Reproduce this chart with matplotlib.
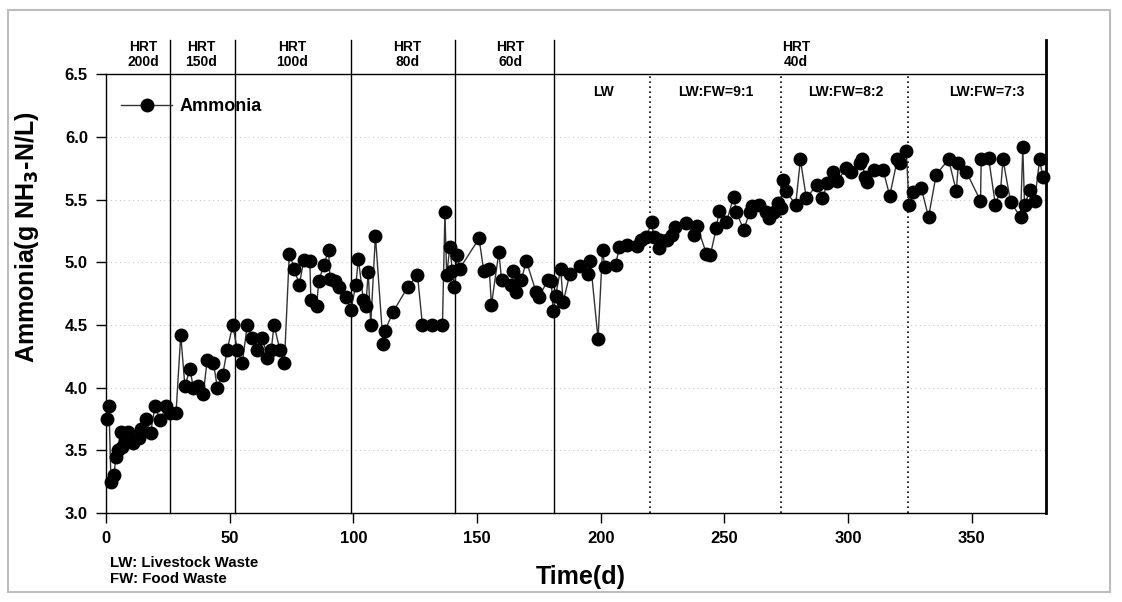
import matplotlib

matplotlib.use("Agg")
matplotlib.rcParams["font.family"] = ["Liberation Sans", "DejaVu Sans"]
matplotlib.rcParams["font.weight"] = "bold"
import matplotlib.pyplot as plt  # noqa: E402
from matplotlib.patches import Rectangle  # noqa: E402

# ammonia readings (day, g NH3-N/L)
days = [
    0.3, 1.2, 2.0, 3.2, 4.0, 5.0, 5.9, 6.5, 7.7, 9.0, 9.7, 11.0, 11.7, 13.5, 14.0,
    16.2, 18.0, 19.8, 22.0, 24.1, 25.9, 28.3, 30.2, 31.9, 33.9, 35.3, 37.3, 39.3,
    40.9, 43.4, 45.0, 47.1, 49.0, 51.2, 53.1, 55.1, 57.1, 59.1, 61.1, 63.2, 65.2,
    66.8, 67.9, 70.3, 72.1, 74.1, 76.1, 78.1, 80.0, 82.4, 82.8, 85.1, 86.0, 88.1,
    90.0, 90.5, 92.5, 94.1, 97.0, 99.0, 101.0, 102.0, 104.0, 105.0, 106.0, 107.0,
    108.9, 112.0, 112.7, 115.9, 121.9, 125.9, 127.9, 131.9, 136.0, 137.0, 137.7,
    139.0, 140.0, 140.8, 142.0, 143.0, 150.8, 152.7, 154.9, 155.8, 158.8, 159.9,
    163.9, 164.6, 165.9, 167.9, 169.9, 173.9, 174.9, 178.7, 180.0, 180.7, 181.7,
    183.8, 184.8, 187.5, 191.8, 194.9, 195.8, 198.9, 200.7, 201.6, 206.0, 207.5,
    210.7, 214.8, 216.4, 218.2, 220.7, 221.4, 223.6, 224.1, 226.8, 228.6, 229.9,
    234.6, 237.6, 238.9, 242.7, 244.3, 246.7, 247.8, 250.8, 253.7, 254.8, 257.8,
    260.2, 261.3, 264.0, 266.9, 268.0, 269.9, 271.6, 272.7, 273.6, 274.7, 278.8,
    280.7, 283.1, 287.4, 289.6, 291.6, 293.9, 295.6, 299.3, 301.0, 304.7, 305.6,
    306.7, 307.6, 310.4, 314.1, 316.8, 319.9, 321.1, 323.5, 324.6, 326.2, 329.6,
    332.5, 335.6, 340.6, 343.7, 344.6, 347.8, 353.5, 353.8, 356.8, 359.5, 361.6,
    362.6, 365.7, 369.7, 370.6, 371.3, 373.7, 375.4, 377.4, 378.7,
]
ammonia = [
    3.75, 3.85, 3.25, 3.30, 3.45, 3.50, 3.65, 3.53, 3.58, 3.65, 3.61, 3.56, 3.59, 3.60, 3.67,
    3.75, 3.64, 3.85, 3.74, 3.85, 3.80, 3.80, 4.42, 4.01, 4.15, 4.00, 4.01, 3.95,
    4.22, 4.20, 4.00, 4.10, 4.30, 4.50, 4.30, 4.20, 4.50, 4.40, 4.30, 4.40, 4.24,
    4.30, 4.50, 4.30, 4.20, 5.07, 4.95, 4.82, 5.02, 5.01, 4.70, 4.65, 4.85, 4.98,
    5.10, 4.87, 4.85, 4.80, 4.72, 4.62, 4.82, 5.03, 4.70, 4.65, 4.92, 4.50,
    5.21, 4.35, 4.45, 4.60, 4.80, 4.90, 4.50, 4.50, 4.50, 5.40, 4.90,
    5.12, 4.93, 4.80, 5.06, 4.95, 5.19, 4.93, 4.95, 4.66, 5.08, 4.86,
    4.82, 4.93, 4.76, 4.86, 5.01, 4.76, 4.72, 4.86, 4.85, 4.61, 4.73,
    4.95, 4.68, 4.91, 4.97, 4.91, 5.01, 4.39, 5.10, 4.96, 4.98, 5.12,
    5.14, 5.13, 5.18, 5.20, 5.32, 5.20, 5.11, 5.18, 5.18, 5.22, 5.28,
    5.31, 5.22, 5.29, 5.07, 5.06, 5.27, 5.41, 5.32, 5.52, 5.40, 5.26,
    5.40, 5.45, 5.46, 5.40, 5.35, 5.40, 5.47, 5.43, 5.66, 5.57, 5.46,
    5.82, 5.51, 5.62, 5.51, 5.63, 5.72, 5.65, 5.75, 5.72, 5.79, 5.82,
    5.68, 5.64, 5.74, 5.74, 5.53, 5.82, 5.79, 5.89, 5.46, 5.56, 5.59,
    5.36, 5.70, 5.82, 5.57, 5.79, 5.72, 5.49, 5.82, 5.83, 5.46, 5.57,
    5.82, 5.48, 5.36, 5.92, 5.46, 5.58, 5.49, 5.82, 5.68,
]

hrt_bounds = [26, 52, 99, 141, 181]
hrt_labels = ["HRT\n200d", "HRT\n150d", "HRT\n100d", "HRT\n80d", "HRT\n60d", "HRT\n40d"]
hrt_label_x = [15, 38.5, 75.3, 121.9, 163.6, 279]
feed_bounds = [220, 273, 324]
feed_labels = ["LW", "LW:FW=9:1", "LW:FW=8:2", "LW:FW=7:3"]
feed_label_x = [201, 246.6, 299, 356]

X_MAX = 380
HEADER_TOP = 6.77

fig = plt.figure(figsize=(11.22, 6.02), dpi=100)
ax = fig.add_axes([0.0945, 0.1478, 0.8378, 0.7289])

# light grey frame round the whole picture
fig.patches.append(
    Rectangle((8 / 1122, 10 / 602), 1102 / 1122, 582 / 602, transform=fig.transFigure,
              fill=False, edgecolor="#bdbdbd", linewidth=1.5)
)

ax.plot(days, ammonia, color="#333333", linewidth=1.0, marker="o", markersize=9,
        markerfacecolor="black", markeredgecolor="black", label="Ammonia",
        clip_on=False, zorder=4)

for b in hrt_bounds:
    ax.plot([b, b], [3.0, HEADER_TOP], color="black", linewidth=1.0, clip_on=False, zorder=2)
ax.plot([X_MAX, X_MAX], [3.0, HEADER_TOP], color="black", linewidth=2.0, clip_on=False, zorder=5)
for b in feed_bounds:
    ax.plot([b, b], [3.0, 6.5], color="black", linewidth=1.2, linestyle=(0, (1, 2)), zorder=2)

for x, lab in zip(hrt_label_x, hrt_labels):
    ax.text(x, 6.655, lab, ha="center", va="center", fontsize=10, fontweight="bold",
            linespacing=1.1, clip_on=False)
for x, lab in zip(feed_label_x, feed_labels):
    ax.text(x, 6.36, lab, ha="center", va="center", fontsize=10, fontweight="bold")

ax.set_xlim(0, X_MAX)
ax.set_ylim(3.0, 6.5)
ax.set_xticks(range(0, 351, 50))
ax.set_yticks([3.0, 3.5, 4.0, 4.5, 5.0, 5.5, 6.0, 6.5])
ax.set_yticklabels([f"{v:.1f}" for v in ax.get_yticks()])
ax.tick_params(direction="out", length=7, width=1.0, labelsize=12, pad=6)
for lab in ax.get_xticklabels() + ax.get_yticklabels():
    lab.set_fontweight("bold")
ax.spines["right"].set_visible(False)
for s in ("left", "bottom", "top"):
    ax.spines[s].set_linewidth(1.0)
ax.grid(axis="y", linestyle=(0, (1, 3)), color="#c8c8c8", linewidth=0.8)
ax.set_axisbelow(True)

ax.legend(loc="upper left", bbox_to_anchor=(0.003, 0.975), frameon=False, handlelength=2.8,
          handletextpad=0.4, prop={"size": 13, "weight": "bold"}, borderaxespad=0.3)

fig.text(581 / 1122, 1 - 577 / 602, "Time(d)", ha="center", va="center", fontsize=18,
         fontweight="bold")
fig.text(27 / 1122, 1 - 237 / 602, "Ammonia(g NH$_\\mathbf{3}$-N/L)", ha="center", va="center",
         rotation=90, fontsize=18, fontweight="bold")
fig.text(110 / 1122, 1 - 563 / 602, "LW: Livestock Waste", ha="left", va="center",
         fontsize=10.8, fontweight="bold")
fig.text(110 / 1122, 1 - 579 / 602, "FW: Food Waste", ha="left", va="center",
         fontsize=10.8, fontweight="bold")

fig.savefig("out.png", dpi=100)
